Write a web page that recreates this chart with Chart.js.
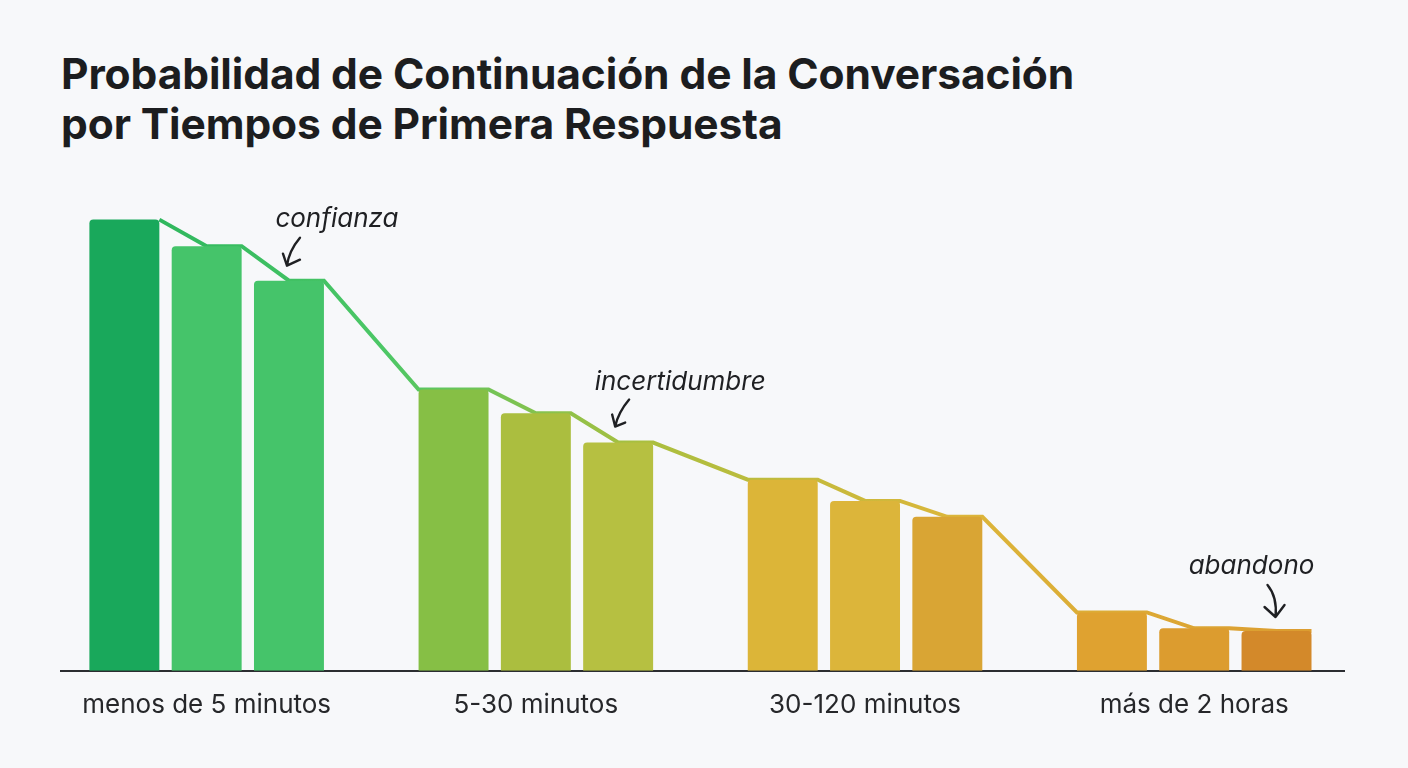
<!DOCTYPE html>
<html lang="es">
<head>
<meta charset="utf-8">
<script src="https://cdn.jsdelivr.net/npm/chart.js@4.4.0/dist/chart.umd.min.js"></script>
<style>
  html, body { margin: 0; padding: 0; background: #f7f8fa; }
  body { width: 1408px; height: 768px; position: relative; overflow: hidden; font-family: Inter, "Noto Sans", sans-serif; }
  h1 {
    position: absolute; left: 61px; top: 49px; margin: 0;
    font: 700 42.5px/50px Inter, "Noto Sans", sans-serif; color: #1c1d1f; letter-spacing: -0.1px;
  }
  #wrap { position: absolute; left: 0; top: 0; width: 1408px; height: 768px; }
</style>
</head>
<body>
<h1>Probabilidad de Continuación de la Conversación<br>por Tiempos de Primera Respuesta</h1>
<div id="wrap"><canvas id="chart"></canvas></div>
<script>
// grupos de tiempo de primera respuesta
const categories = ['menos de 5 minutos', '5-30 minutos', '30-120 minutos', 'más de 2 horas'];
// tres barras por grupo (probabilidad de continuar, %)
const values = [85, 80, 73.5, 53, 48.5, 43, 36, 32, 29, 11, 8, 7.5];
const barColors = [
  '#19a85b', '#45c46a', '#45c46a',
  '#86bf45', '#abbe3f', '#b6c041',
  '#dcb538', '#dcb53a', '#d9a534',
  '#dfa230', '#dc9c2f', '#d3892a'
];
// etiquetas de las notas y la barra a la que apuntan
const notes = [
  { bar: 2, text: 'confianza' },
  { bar: 5, text: 'incertidumbre' },
  { bar: 11, text: 'abandono' }
];

const perGroup = 3;
const slotsPerGroup = 4;
const halfBar = 0.425;
const slotOf = i => Math.floor(i / perGroup) * slotsPerGroup + (i % perGroup);
const groupTicks = categories.map((c, g) => g * slotsPerGroup + 1);

const barData = values.map((v, i) => ({ x: slotOf(i), y: v }));

// the trend line runs along the bar tops
const lineData = [];
values.forEach((v, i) => {
  const s = slotOf(i), k = i % perGroup;
  if (i > 0) lineData.push({ x: k === 0 ? s - halfBar : s, y: v });
  lineData.push({ x: s + halfBar, y: v });
});

const lineGradient = (ctx) => {
  const area = ctx.chart.chartArea;
  if (!area) return '#45c46a';
  const g = ctx.chart.ctx.createLinearGradient(area.left, 0, area.right, 0);
  g.addColorStop(0, '#22b05a');
  g.addColorStop(0.25, '#4cc766');
  g.addColorStop(0.45, '#a9bf3f');
  g.addColorStop(0.7, '#dcb63a');
  g.addColorStop(1, '#dc9a2f');
  return g;
};

// hand-drawn arrows, offsets in px from the bar top centre
const arrowShapes = [
  { tx: 48, ty: -54, s: [11, -43], c: [0, -30], t: [-2, -15], w1: [-6, -27], w2: [11, -21] },
  { tx: 62, ty: -53, s: [11, -43], c: [0, -30], t: [-3, -16], w1: [-6, -28], w2: [7, -20] },
  { tx: -25, ty: -57, s: [-9, -46], c: [1, -34], t: [-1, -14], w1: [-12, -24], w2: [8, -26] }
];

const notesPlugin = {
  id: 'notes',
  afterDatasetsDraw(chart) {
    const { ctx, scales } = chart;
    ctx.save();
    notes.forEach((n, j) => {
      const px = scales.x.getPixelForValue(slotOf(n.bar));
      const py = scales.y.getPixelForValue(values[n.bar]);
      const a = arrowShapes[j];
      ctx.fillStyle = '#1f2023';
      ctx.font = 'italic 400 26px Inter, "Noto Sans", sans-serif';
      ctx.textAlign = 'center';
      ctx.textBaseline = 'alphabetic';
      ctx.fillText(n.text, px + a.tx, py + a.ty);
      ctx.strokeStyle = '#1f2023';
      ctx.lineWidth = 2.4;
      ctx.lineCap = 'round';
      ctx.lineJoin = 'round';
      ctx.beginPath();
      ctx.moveTo(px + a.s[0], py + a.s[1]);
      ctx.quadraticCurveTo(px + a.c[0], py + a.c[1], px + a.t[0], py + a.t[1]);
      ctx.moveTo(px + a.w1[0], py + a.w1[1]);
      ctx.lineTo(px + a.t[0], py + a.t[1]);
      ctx.lineTo(px + a.w2[0], py + a.w2[1]);
      ctx.stroke();
    });
    ctx.restore();
  }
};

new Chart(document.getElementById('chart'), {
  data: {
    datasets: [
      {
        type: 'bar',
        data: barData,
        backgroundColor: barColors,
        barPercentage: 0.85,
        categoryPercentage: 1,
        borderRadius: 4,
        order: 0
      },
      {
        type: 'line',
        data: lineData,
        borderColor: lineGradient,
        borderWidth: 4,
        pointRadius: 0,
        tension: 0,
        order: 1
      }
    ]
  },
  options: {
    responsive: true,
    maintainAspectRatio: false,
    animation: false,
    layout: { padding: { left: 61, right: 64, top: 140, bottom: 36 } },
    plugins: { legend: { display: false }, tooltip: { enabled: false } },
    scales: {
      x: {
        type: 'linear',
        offset: false,
        min: -0.77,
        max: 14.82,
        grid: { display: false },
        border: { display: true, color: '#2b2d31', width: 2 },
        afterBuildTicks: (axis) => { axis.ticks = groupTicks.map(v => ({ value: v })); },
        ticks: {
          padding: 11,
          color: '#26272a',
          font: { family: 'Inter, "Noto Sans", sans-serif', size: 26 },
          callback: (v) => categories[groupTicks.indexOf(v)] ?? ''
        }
      },
      y: { display: false, min: 0, max: 100 }
    }
  },
  plugins: [notesPlugin]
});
</script>
</body>
</html>
